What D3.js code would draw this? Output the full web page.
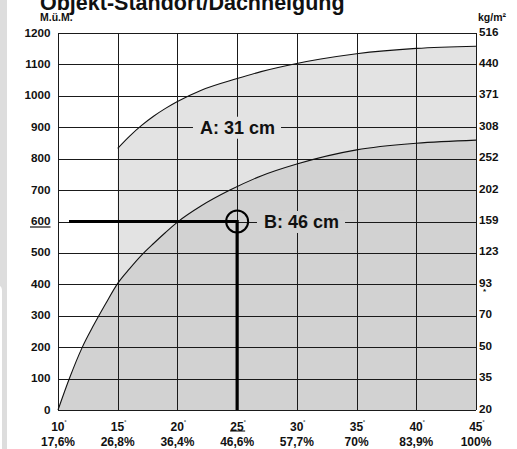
<!DOCTYPE html>
<html><head><meta charset="utf-8">
<script src="https://cdn.jsdelivr.net/npm/d3@7"></script>
<style>
html,body{margin:0;padding:0;background:#fff;}
svg{display:block;font-family:"Liberation Sans",Arial,Helvetica,sans-serif;font-weight:bold;}
</style></head>
<body>
<svg id="chart" width="517" height="449"></svg>
<script>
// ---- data ----
const degrees = [10, 15, 20, 25, 30, 35, 40, 45];
const percentLabels = ["17,6%", "26,8%", "36,4%", "46,6%", "57,7%", "70%", "83,9%", "100%"];
const altitudeTicks = [0, 100, 200, 300, 400, 500, 600, 700, 800, 900, 1000, 1100, 1200];
const snowLoadLabels = ["20", "35", "50", "70", "93", "123", "159", "202", "252", "308", "371", "440", "516"];
// curve A (31 cm)
const curveADeg = [15, 16, 17, 18, 19, 20, 22, 25, 27, 30, 32, 35, 40, 45];
const curveAVal = [833, 872, 906, 935, 960, 982, 1018, 1055, 1077, 1103, 1117, 1134, 1151, 1158];
// curve B (46 cm)
const curveBDeg = [10, 11, 12, 13, 14, 15, 16, 17, 18, 19, 20, 22, 24.4, 27, 30, 35, 40, 45];
const curveBVal = [0, 105, 197, 271, 339, 403, 450, 493, 530, 565, 598, 650, 700, 745, 783, 828, 849, 859];
const labelA = "A: 31 cm", labelB = "B: 46 cm";
const markDeg = 25, markAlt = 600;

// ---- layout ----
const svg = d3.select("#chart");
const L = 58, R = 476, T = 33, B = 410;
const x = d3.scaleLinear().domain([10, 45]).range([L, R]);
const y = d3.scaleLinear().domain([0, 1200]).range([B, T]);

// left strip
svg.append("path")
  .attr("d", "M0,0 H7 V449 H2 V291 Q2,287 0,286 Z")
  .attr("fill", "#dddddd");

// title (partly cut off at the top, as in the original)
svg.append("text").attr("x", 40).attr("y", 9.5)
  .attr("font-size", 21.5).attr("fill", "#111")
  .text("Objekt-Standort/Dachneigung");
svg.append("text").attr("x", 40).attr("y", 21)
  .attr("font-size", 10.5).attr("fill", "#111").text("M.ü.M.");
svg.append("text").attr("x", 478).attr("y", 21)
  .attr("font-size", 10.5).attr("fill", "#111").text("kg/m²");

// fills
const areaA = d3.area().x((d, i) => x(curveADeg[i])).y0(y(0)).y1(d => y(d)).curve(d3.curveMonotoneX);
const areaB = d3.area().x((d, i) => x(curveBDeg[i])).y0(y(0)).y1(d => y(d)).curve(d3.curveMonotoneX);
svg.append("path").attr("d", areaA(curveAVal)).attr("fill", "#e3e3e3");
svg.append("path").attr("d", areaB(curveBVal)).attr("fill", "#d2d2d2");

// grid
const grid = svg.append("g").attr("stroke", "#1a1a1a").attr("stroke-width", 1);
altitudeTicks.forEach(v => {
  grid.append("line").attr("x1", L).attr("x2", R)
    .attr("y1", Math.round(y(v)) + 0.5).attr("y2", Math.round(y(v)) + 0.5);
});
degrees.forEach(d => {
  grid.append("line").attr("y1", T).attr("y2", B)
    .attr("x1", Math.round(x(d)) + 0.5).attr("x2", Math.round(x(d)) + 0.5);
});

// curves
const lineA = d3.line().x((d, i) => x(curveADeg[i])).y(d => y(d)).curve(d3.curveMonotoneX);
const lineB = d3.line().x((d, i) => x(curveBDeg[i])).y(d => y(d)).curve(d3.curveMonotoneX);
svg.append("path").attr("d", lineA(curveAVal)).attr("fill", "none").attr("stroke", "#111").attr("stroke-width", 1.1);
svg.append("path").attr("d", lineB(curveBVal)).attr("fill", "none").attr("stroke", "#111").attr("stroke-width", 1.1);

// curve labels with gap backgrounds
function curveLabel(txt, cx, cy, bg, padL, padR) {
  const t = svg.append("text").attr("x", cx).attr("y", cy).attr("dy", "0.36em")
    .attr("text-anchor", "middle").attr("font-size", 18).attr("fill", "#111").text(txt);
  const bb = t.node().getBBox();
  svg.insert("rect", () => t.node())
    .attr("x", bb.x - padL).attr("y", bb.y - 1).attr("width", bb.width + padL + padR).attr("height", bb.height + 2)
    .attr("fill", bg);
}
curveLabel(labelA, 237.5, y(900), "#e3e3e3", 7, 6);
curveLabel(labelB, 301.5, y(600), "#d2d2d2", 7, 6);

// marker lines
svg.append("line").attr("x1", 69).attr("x2", x(markDeg)).attr("y1", y(markAlt)).attr("y2", y(markAlt))
  .attr("stroke", "#000").attr("stroke-width", 3);
svg.append("line").attr("x1", x(markDeg)).attr("x2", x(markDeg)).attr("y1", y(markAlt) - 1.5).attr("y2", B)
  .attr("stroke", "#000").attr("stroke-width", 3.2);
svg.append("circle").attr("cx", x(markDeg)).attr("cy", y(markAlt)).attr("r", 11)
  .attr("fill", "none").attr("stroke", "#000").attr("stroke-width", 2);

// left axis labels
altitudeTicks.forEach(v => {
  svg.append("text").attr("x", 50.5).attr("y", y(v)).attr("dy", "0.3em")
    .attr("text-anchor", "end").attr("font-size", 11.7).attr("fill", "#111").text(v);
  if (v === markAlt) {
    svg.append("line").attr("x1", 30).attr("x2", 50.5).attr("y1", y(v) + 5.5).attr("y2", y(v) + 5.5)
      .attr("stroke", "#111").attr("stroke-width", 1.2);
  }
});

// right axis labels
snowLoadLabels.forEach((s, i) => {
  const v = altitudeTicks[i];
  svg.append("text").attr("x", 479).attr("y", y(v) - 1).attr("dy", "0.3em")
    .attr("font-size", 11.7).attr("fill", "#111").text(s);
  if (s === "93") {
    svg.append("text").attr("x", 484.5).attr("y", y(v) + 10).attr("text-anchor", "middle")
      .attr("font-size", 8).attr("fill", "#111").text("*");
  }
});

// bottom labels
degrees.forEach((d, i) => {
  const t = svg.append("text").attr("x", x(d) + 1).attr("y", 431)
    .attr("text-anchor", "middle").attr("font-size", 12).attr("fill", "#111");
  t.append("tspan").text(d);
  t.append("tspan").attr("font-size", 7).attr("dy", -5).text("˚");
  svg.append("text").attr("x", x(d)).attr("y", 446)
    .attr("text-anchor", "middle").attr("font-size", 12).attr("fill", "#111").text(percentLabels[i]);
  if (d === markDeg) {
    svg.append("line").attr("x1", x(d) - 7).attr("x2", x(d) + 8).attr("y1", 431).attr("y2", 431)
      .attr("stroke", "#111").attr("stroke-width", 1.1);
  }
});
</script>
</body></html>
